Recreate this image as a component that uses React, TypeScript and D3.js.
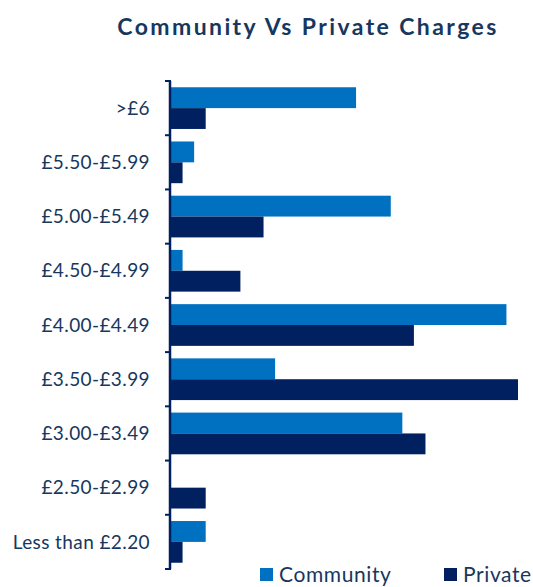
import React from "react";
import * as d3 from "d3";

const categories = [
  ">£6",
  "£5.50-£5.99",
  "£5.00-£5.49",
  "£4.50-£4.99",
  "£4.00-£4.49",
  "£3.50-£3.99",
  "£3.00-£3.49",
  "£2.50-£2.99",
  "Less than £2.20",
];
const communityValues = [16, 2, 19, 1, 29, 9, 20, 0, 3];
const privateValues = [3, 1, 8, 6, 21, 30, 22, 3, 1];
const seriesNames = ["Community", "Private"];
const seriesColors = ["#0070C0", "#002060"];
const title = "Community Vs Private Charges";

const W = 533;
const H = 587;
const textColor = "#17375E";
const font = "Lato, 'Open Sans', sans-serif";

export default function App() {
  const y = d3.scaleBand<string>().domain(categories).range([81, 569]).padding(0);
  const inner = d3
    .scaleBand<string>()
    .domain(seriesNames)
    .range([0, y.step()])
    .paddingInner(0)
    .paddingOuter(0.3);
  const x = d3.scaleLinear().domain([0, 30]).range([171, 518]);
  const series = [communityValues, privateValues];
  const tickYs = [...categories.map((c) => y(c) as number), 569];

  return (
    <svg
      width={W}
      height={H}
      style={{ position: "absolute", left: 0, top: 0, background: "#fff" }}
      fontFamily={font}
    >
      <text
        x={308}
        y={35}
        textAnchor="middle"
        fontSize={23}
        fontWeight={700}
        letterSpacing={2.4}
        fill={textColor}
      >
        {title}
      </text>
      {categories.map((c, i) => (
        <g key={c}>
          {series.map((vals, s) => (
            <rect
              key={s}
              x={x(0)}
              y={(y(c) as number) + (inner(seriesNames[s]) as number)}
              width={Math.max(0, x(vals[i]) - x(0))}
              height={inner.bandwidth()}
              fill={seriesColors[s]}
            />
          ))}
          <text
            x={150}
            y={(y(c) as number) + y.bandwidth() / 2}
            dy="0.35em"
            textAnchor="end"
            fontSize={19}
            letterSpacing={0.4}
            fill={textColor}
          >
            {c}
          </text>
        </g>
      ))}
      <line x1={170} x2={170} y1={81} y2={569} stroke="#002060" strokeWidth={2.5} />
      {tickYs.map((t, i) => (
        <line key={i} x1={165} x2={171} y1={t} y2={t} stroke="#002060" strokeWidth={2} />
      ))}
      {seriesNames.map((n, i) => {
        const lx = [260, 444][i];
        return (
          <g key={n}>
            <rect x={lx} y={568} width={13} height={13} fill={seriesColors[i]} />
            <text x={lx + 19} y={582} fontSize={21} letterSpacing={0.6} fill={textColor}>
              {n}
            </text>
          </g>
        );
      })}
    </svg>
  );
}
